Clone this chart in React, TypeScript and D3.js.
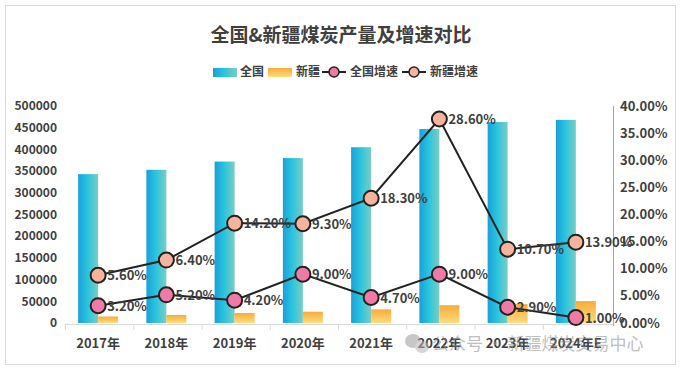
import React from 'react';
import * as d3 from 'd3';

// 产量（万吨）与增速
const years = ['2017年', '2018年', '2019年', '2020年', '2021年', '2022年', '2023年', '2024年E'];
const nationalOutput = [343000, 353000, 372000, 380000, 405000, 447000, 463000, 468000];
const xinjiangOutput = [15000, 18500, 23000, 26000, 31500, 41000, 43500, 50500];
const nationalGrowth = [0.032, 0.052, 0.042, 0.09, 0.047, 0.09, 0.029, 0.01];
const xinjiangGrowth = [0.056, 0.064, 0.142, 0.093, 0.183, 0.286, 0.107, 0.139];
const leftTicks = [0, 50000, 100000, 150000, 200000, 250000, 300000, 350000, 400000, 450000, 500000];
const rightTicks = [0, 0.05, 0.1, 0.15, 0.2, 0.25, 0.3, 0.35, 0.4];

const FONT = '"Noto Sans CJK SC", "Noto Sans", sans-serif';
const TEXT = '#404040';

const W = 681;
const H = 370;

const App = () => {
  const x = d3.scaleBand<string>().domain(years).range([65, 611]);
  const sub = d3.scaleBand<string>().domain(['全国', '新疆']).range([0, 40]);
  const yL = d3.scaleLinear().domain([0, 500000]).range([323, 106]);
  const yR = d3.scaleLinear().domain([0, 0.4]).range([323, 106]);
  const pct = d3.format('.2%');
  const cx = (y: string) => (x(y) as number) + x.bandwidth() / 2 - 1;

  // 新疆增速折线为堆积折线
  const rows = years.map((y, i) => ({ year: y, nat: nationalGrowth[i], xj: xinjiangGrowth[i] }));
  const stacked = d3.stack<any>().keys(['nat', 'xj'])(rows);

  const line = d3
    .line<any>()
    .x(d => cx(d.data.year))
    .y(d => yR(d[1]));

  const series = [
    { name: '全国增速', s: stacked[0], fill: '#f07aa6', vals: nationalGrowth },
    { name: '新疆增速', s: stacked[1], fill: '#f8b39c', vals: xinjiangGrowth },
  ];

  return (
    <svg
      width={W}
      height={H}
      style={{ position: 'absolute', left: 0, top: 0, background: '#fff' }}
      fontFamily={FONT}
    >
      <defs>
        <linearGradient id="gBlue" x1="0" x2="1" y1="0" y2="0">
          <stop offset="0%" stopColor="#1b9fd9" />
          <stop offset="45%" stopColor="#27c4de" />
          <stop offset="100%" stopColor="#7cccc4" />
        </linearGradient>
        <linearGradient id="gOrange" x1="0" x2="0" y1="0" y2="1">
          <stop offset="0%" stopColor="#f8ab3a" />
          <stop offset="100%" stopColor="#ffdb7e" />
        </linearGradient>
      </defs>

      <rect x={5.5} y={5.5} width={670} height={359} fill="#fff" stroke="#d9d9d9" />

      <text x={341} y={42} textAnchor="middle" fontSize={19} fontWeight="bold" fill={TEXT}>
        全国&amp;新疆煤炭产量及增速对比
      </text>

      {/* 图例 */}
      <g fontSize={12} fill={TEXT} fontWeight="bold">
        <rect x={213} y={68} width={24} height={9} fill="url(#gBlue)" />
        <text x={240} y={76}>全国</text>
        <rect x={268} y={68} width={24} height={9} fill="url(#gOrange)" />
        <text x={296} y={76}>新疆</text>
        <line x1={322} x2={346} y1={72} y2={72} stroke="#222" strokeWidth={2} />
        <circle cx={334} cy={72} r={5} fill="#f07aa6" stroke="#222" strokeWidth={1.5} />
        <text x={350} y={76}>全国增速</text>
        <line x1={402} x2={426} y1={72} y2={72} stroke="#222" strokeWidth={2} />
        <circle cx={414} cy={72} r={5} fill="#f8b39c" stroke="#222" strokeWidth={1.5} />
        <text x={430} y={76}>新疆增速</text>
      </g>

      {/* 左轴 */}
      <g fontSize={12} fontWeight="bold" fill={TEXT} textAnchor="end">
        {leftTicks.map(t => (
          <text key={t} x={57} y={yL(t)} dy="0.35em">
            {t}
          </text>
        ))}
      </g>

      {/* 右轴 */}
      <line x1={613.5} x2={613.5} y1={106} y2={326} stroke="#a6a6a6" />
      <g fontSize={13} fontWeight="bold" fill={TEXT}>
        {rightTicks.map(t => (
          <text key={t} x={620} y={yR(t)} dy="0.35em">
            {pct(t)}
          </text>
        ))}
      </g>

      {/* 柱子 */}
      {years.map((y, i) => {
        const x0 = cx(y) - 20;
        return (
          <g key={y}>
            <rect
              x={x0 + (sub('全国') as number)}
              y={yL(nationalOutput[i])}
              width={sub.bandwidth()}
              height={yL(0) - yL(nationalOutput[i])}
              fill="url(#gBlue)"
            />
            <rect
              x={x0 + (sub('新疆') as number)}
              y={yL(xinjiangOutput[i])}
              width={sub.bandwidth()}
              height={yL(0) - yL(xinjiangOutput[i])}
              fill="url(#gOrange)"
            />
          </g>
        );
      })}

      {/* X轴 */}
      <line x1={65} x2={613} y1={324.5} y2={324.5} stroke="#d9d9d9" />
      {years.map(y => (
        <line
          key={y}
          x1={(x(y) as number) + 0.5}
          x2={(x(y) as number) + 0.5}
          y1={324}
          y2={330}
          stroke="#d9d9d9"
        />
      ))}
      <g fontSize={13} fontWeight="bold" fill={TEXT} textAnchor="middle">
        {years.map(y => (
          <text key={y} x={cx(y)} y={348}>
            {y}
          </text>
        ))}
      </g>

      {/* 折线 */}
      {series.map(sr => (
        <g key={sr.name}>
          <path d={line(sr.s as any) as string} fill="none" stroke="#222" strokeWidth={2} />
          {sr.s.map((d: any, i: number) => (
            <circle
              key={i}
              cx={cx(d.data.year)}
              cy={yR(d[1])}
              r={7.5}
              fill={sr.fill}
              stroke="#222"
              strokeWidth={2}
            />
          ))}
          {sr.s.map((d: any, i: number) => (
            <text
              key={'t' + i}
              x={cx(d.data.year) + 9}
              y={yR(d[1])}
              dy="0.4em"
              fontSize={13}
              fontWeight="bold"
              fill={TEXT}
            >
              {pct(sr.vals[i])}
            </text>
          ))}
        </g>
      ))}

      {/* 水印 */}
      <g opacity={0.55}>
        <ellipse cx={413} cy={341} rx={8} ry={7} fill="#9a9a9a" />
        <ellipse cx={422} cy={347} rx={7} ry={6} fill="#b5b5b5" />
        <text x={432} y={350} fontSize={17} fill="#8a8a8a">
          公众号 · 新疆煤炭交易中心
        </text>
      </g>
    </svg>
  );
};

export default App;
